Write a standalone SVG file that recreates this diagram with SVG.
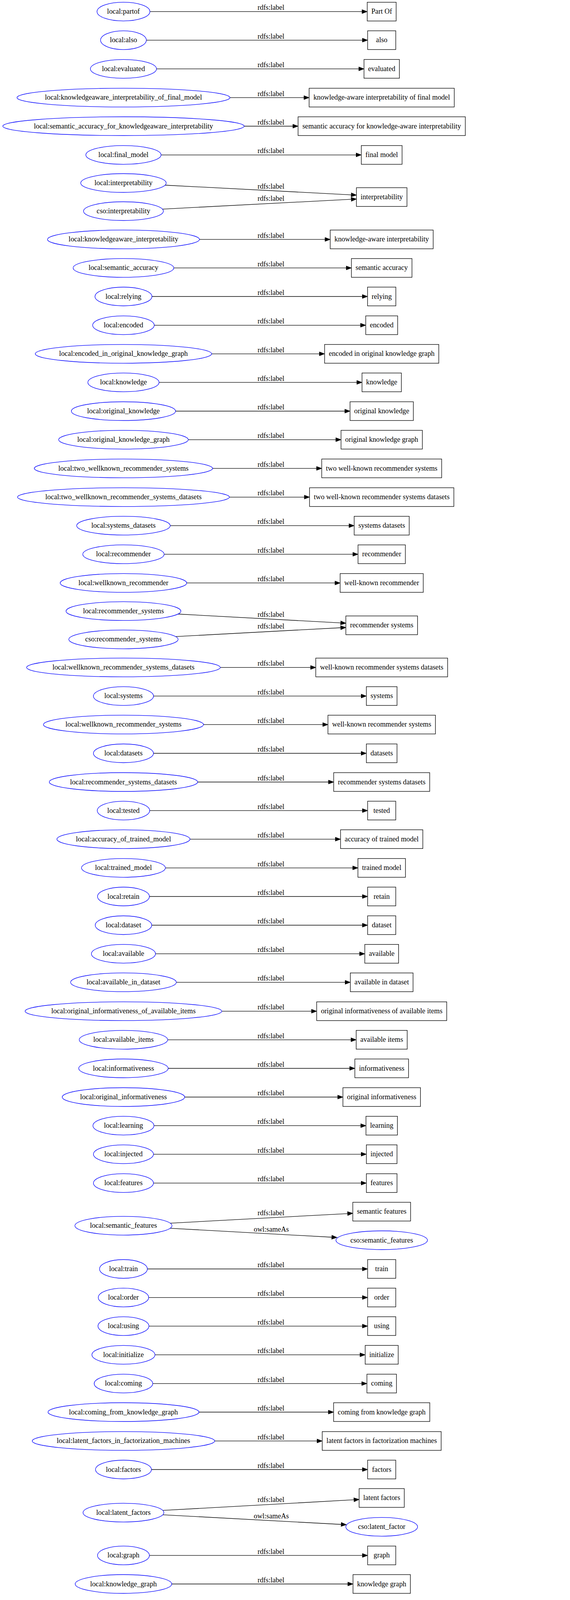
<svg xmlns="http://www.w3.org/2000/svg" width="1459" height="7352" viewBox="0 0 1459 7352">
<style>
text{font-family:"Liberation Serif","Times New Roman",serif;font-size:18.2px;text-anchor:middle;fill:#000}
.n ellipse{fill:none;stroke:#0000ff;stroke-width:1.33}
.b rect{fill:#fff;stroke:#000;stroke-width:1.33}
#connectors path{fill:none;stroke:#000;stroke-width:1.33;marker-end:url(#ah)}
</style>
<defs>
<marker id="ah" markerUnits="userSpaceOnUse" markerWidth="14" markerHeight="10" refX="0" refY="5" orient="auto" overflow="visible"><path d="M0,0L13.3,5L0,10z" fill="#000" stroke="#000" stroke-width="1"/></marker>
</defs>
<rect x="0" y="0" width="1459" height="7352" fill="#fff"/>
<g id="connectors">
<path d="M383.7,29.7H926.7"/><text x="693.5" y="25.4">rdfs:label</text>
<path d="M374.6,102.8H927.7"/><text x="693.5" y="98.5">rdfs:label</text>
<path d="M400.6,176.3H918.35"/><text x="693.5" y="172">rdfs:label</text>
<path d="M588.5,249.9H778"/><text x="693.5" y="245.6">rdfs:label</text>
<path d="M624.8,323H749.65"/><text x="693.5" y="318.7">rdfs:label</text>
<path d="M412.3,396.6H911.5"/><text x="693.5" y="392.3">rdfs:label</text>
<path d="M422.5,474L899.07,498.81"/><text x="693.5" y="482.7">rdfs:label</text>
<path d="M415.8,535.3L899.07,510.19"/><text x="693.5" y="513.5">rdfs:label</text>
<path d="M510.5,612.9H831.95"/><text x="693.5" y="608.6">rdfs:label</text>
<path d="M444.8,685.9H886.2"/><text x="693.5" y="681.6">rdfs:label</text>
<path d="M388.9,759H927.45"/><text x="693.5" y="754.7">rdfs:label</text>
<path d="M394.8,832.6H922.9"/><text x="693.5" y="828.3">rdfs:label</text>
<path d="M541.7,905.8H817.55"/><text x="693.5" y="901.5">rdfs:label</text>
<path d="M407.1,978.9H913.3"/><text x="693.5" y="974.6">rdfs:label</text>
<path d="M449.4,1052.5H882.65"/><text x="693.5" y="1048.2">rdfs:label</text>
<path d="M481.9,1125.6H859.6"/><text x="693.5" y="1121.3">rdfs:label</text>
<path d="M544.3,1199.1H810.2"/><text x="693.5" y="1194.8">rdfs:label</text>
<path d="M587.2,1272.6H779.05"/><text x="693.5" y="1268.3">rdfs:label</text>
<path d="M435.7,1345.7H893.25"/><text x="693.5" y="1341.4">rdfs:label</text>
<path d="M420.1,1418.9H903.15"/><text x="693.5" y="1414.6">rdfs:label</text>
<path d="M478,1492.4H857.3"/><text x="693.5" y="1488.1">rdfs:label</text>
<path d="M455.5,1572L872.02,1594.58"/><text x="693.5" y="1578.5">rdfs:label</text>
<path d="M449.6,1629.6L872.02,1607.01"/><text x="693.5" y="1609.3">rdfs:label</text>
<path d="M563.8,1708.7H795"/><text x="693.5" y="1704.4">rdfs:label</text>
<path d="M392.9,1781.9H924.4"/><text x="693.5" y="1777.6">rdfs:label</text>
<path d="M520.9,1854.9H826.15"/><text x="693.5" y="1850.6">rdfs:label</text>
<path d="M392.8,1928.5H924.45"/><text x="693.5" y="1924.2">rdfs:label</text>
<path d="M505.9,2002H840.85"/><text x="693.5" y="1997.7">rdfs:label</text>
<path d="M383.1,2075.1H927.7"/><text x="693.5" y="2070.8">rdfs:label</text>
<path d="M486.4,2148.3H858.35"/><text x="693.5" y="2144">rdfs:label</text>
<path d="M423.4,2221.8H902.9"/><text x="693.5" y="2217.5">rdfs:label</text>
<path d="M382.4,2295H927.7"/><text x="693.5" y="2290.7">rdfs:label</text>
<path d="M388.3,2368.5H927.7"/><text x="693.5" y="2364.2">rdfs:label</text>
<path d="M398,2441.7H920.4"/><text x="693.5" y="2437.4">rdfs:label</text>
<path d="M451.3,2514.7H883.4"/><text x="693.5" y="2510.4">rdfs:label</text>
<path d="M567.7,2588.7H797.25"/><text x="693.5" y="2584.4">rdfs:label</text>
<path d="M429.2,2661.8H898.35"/><text x="693.5" y="2657.5">rdfs:label</text>
<path d="M430.5,2735H895.05"/><text x="693.5" y="2730.7">rdfs:label</text>
<path d="M472.8,2808.5H864.4"/><text x="693.5" y="2804.2">rdfs:label</text>
<path d="M394.1,2881.7H923.4"/><text x="693.5" y="2877.4">rdfs:label</text>
<path d="M392.8,2954.8H924.45"/><text x="693.5" y="2950.5">rdfs:label</text>
<path d="M392.8,3028.7H924.45"/><text x="693.5" y="3024.4">rdfs:label</text>
<path d="M435.7,3131.3L889.77,3106.82"/><text x="693.5" y="3110.8">rdfs:label</text>
<path d="M435.6,3144.4L849.22,3167.27"/><text x="694.5" y="3153">owl:sameAs</text>
<path d="M377.2,3248.5H927.7"/><text x="693.5" y="3244.2">rdfs:label</text>
<path d="M380.5,3321.6H927.7"/><text x="693.5" y="3317.3">rdfs:label</text>
<path d="M381.2,3394.8H927.7"/><text x="693.5" y="3390.5">rdfs:label</text>
<path d="M396.7,3468.3H921.4"/><text x="693.5" y="3464">rdfs:label</text>
<path d="M390.9,3541.9H925.95"/><text x="693.5" y="3537.6">rdfs:label</text>
<path d="M509.2,3615H840.6"/><text x="693.5" y="3610.7">rdfs:label</text>
<path d="M549.5,3688.9H811.45"/><text x="693.5" y="3684.6">rdfs:label</text>
<path d="M387.6,3762H927.7"/><text x="693.5" y="3757.7">rdfs:label</text>
<path d="M416.6,3866.7L905.97,3839.44"/><text x="693.5" y="3844.5">rdfs:label</text>
<path d="M416.8,3877.8L873.32,3902.48"/><text x="694.5" y="3886.8">owl:sameAs</text>
<path d="M382.4,3981.9H927.7"/><text x="693.5" y="3977.6">rdfs:label</text>
<path d="M439.6,4055H890.25"/><text x="693.5" y="4050.7">rdfs:label</text>
<path d="M450,4128.5H882.15"/><text x="693.5" y="4124.2">rdfs:label</text>
<path d="M400,4201.7H918.85"/><text x="693.5" y="4197.4">rdfs:label</text>
<path d="M465,4274.9H870.45"/><text x="693.5" y="4270.6">rdfs:label</text>
<path d="M381.8,4348.7H927.7"/><text x="693.5" y="4344.4">rdfs:label</text>
<path d="M380.5,4421.8H927.7"/><text x="693.5" y="4417.5">rdfs:label</text>
<path d="M418.9,4495.4H904.15"/><text x="693.5" y="4491.1">rdfs:label</text>
<path d="M559.9,4568.9H801.05"/><text x="693.5" y="4564.6">rdfs:label</text>
<path d="M390.9,4642H925.95"/><text x="693.5" y="4637.7">rdfs:label</text>
<path d="M475.4,4715.2H862.35"/><text x="693.5" y="4710.9">rdfs:label</text>
<path d="M401.3,4788.4H914.8"/><text x="693.5" y="4784.1">rdfs:label</text>
<path d="M372.7,4861.9H927.7"/><text x="693.5" y="4857.6">rdfs:label</text>
<path d="M385.7,4935H927.7"/><text x="693.5" y="4930.7">rdfs:label</text>
<path d="M422.1,5008.5H901.65"/><text x="693.5" y="5004.2">rdfs:label</text>
<path d="M403.9,5081.7H915.85"/><text x="693.5" y="5077.4">rdfs:label</text>
<path d="M369.4,5154.8H927.7"/><text x="693.5" y="5150.5">rdfs:label</text>
<path d="M554.7,5228.7H807.4"/><text x="693.5" y="5224.4">rdfs:label</text>
<path d="M377.3,5301.9H927.7"/><text x="693.5" y="5297.6">rdfs:label</text>
<path d="M478,5374.6H864.9"/><text x="693.5" y="5370.3">rdfs:label</text>
<path d="M381.8,5448.6H927.7"/><text x="693.5" y="5444.3">rdfs:label</text>
<path d="M460.4,5521.6H878.6"/><text x="693.5" y="5517.3">rdfs:label</text>
<path d="M381.8,5594.8H927.7"/><text x="693.5" y="5590.5">rdfs:label</text>
<path d="M413.6,5668.3H910.5"/><text x="693.5" y="5664">rdfs:label</text>
<path d="M394.8,5741.9H877.8"/><text x="694.5" y="5737.6">local:partOf</text>
<path d="M1062.9,5741.9H1321.05"/><text x="1249" y="5737.6">rdfs:label</text>
<path d="M435.7,5815H893.25"/><text x="693.5" y="5810.7">rdfs:label</text>
<path d="M453.3,5888.6H879.6"/><text x="693.5" y="5884.3">rdfs:label</text>
<path d="M411,5961.7H910.25"/><text x="693.5" y="5957.4">rdfs:label</text>
<path d="M478,6034.9H857.3"/><text x="693.5" y="6030.6">rdfs:label</text>
<path d="M385,6108.3H927.7"/><text x="693.5" y="6104">rdfs:label</text>
<path d="M391.5,6181.8H925.45"/><text x="693.5" y="6177.5">rdfs:label</text>
<path d="M397.4,6255H920.9"/><text x="693.5" y="6250.7">rdfs:label</text>
<path d="M468.2,6328.5H872.5"/><text x="693.5" y="6324.2">rdfs:label</text>
<path d="M378.5,6401.7H927.7"/><text x="693.5" y="6397.4">rdfs:label</text>
<path d="M405.2,6474.8H917.1"/><text x="693.5" y="6470.5">rdfs:label</text>
<path d="M381.2,6548.4H927.7"/><text x="693.5" y="6544.1">rdfs:label</text>
<path d="M372,6621.9H927.7"/><text x="693.5" y="6617.6">rdfs:label</text>
<path d="M411,6694.7H910.25"/><text x="693.5" y="6690.4">rdfs:label</text>
<path d="M433.5,6783C650,6780 900,6780 1030,6783C1140,6785.5 1230,6788 1295.8,6794.3"/><text x="976.5" y="6777">rdfs:label</text>
<path d="M423.7,6796L861.76,6836.48"/><text x="694.5" y="6814">owl:sameAs</text>
<path d="M1077,6836L1295.78,6812.14"/><text x="1248" y="6809">rdfs:label</text>
<path d="M569.6,6920H790.45"/><text x="693.5" y="6915.7">rdfs:label</text>
<path d="M408.4,6994H912.3"/><text x="693.5" y="6989.7">rdfs:label</text>
<path d="M470.2,7067H863.4"/><text x="693.5" y="7062.7">rdfs:label</text>
</g>
<g id="local-partof" class="n"><ellipse cx="316" cy="29.7" rx="67.7" ry="24"/><text x="316" y="35.2">local:partof</text></g>
<g id="lit-part-of" class="b"><rect x="940" y="5.7" width="74" height="48"/><text x="977" y="35.2">Part Of</text></g>
<g id="local-also" class="n"><ellipse cx="316" cy="102.8" rx="58.6" ry="24"/><text x="316" y="108.3">local:also</text></g>
<g id="lit-also" class="b"><rect x="941" y="78.8" width="72" height="48"/><text x="977" y="108.3">also</text></g>
<g id="local-evaluated" class="n"><ellipse cx="316" cy="176.3" rx="84.6" ry="24"/><text x="316" y="181.8">local:evaluated</text></g>
<g id="lit-evaluated" class="b"><rect x="931.65" y="152.3" width="90.7" height="48"/><text x="977" y="181.8">evaluated</text></g>
<g id="local-kaiofm" class="n"><ellipse cx="316" cy="249.9" rx="272.5" ry="24"/><text x="316" y="255.4">local:knowledgeaware_interpretability_of_final_model</text></g>
<g id="lit-kaiofm" class="b"><rect x="791.3" y="225.9" width="371.4" height="48"/><text x="977" y="255.4">knowledge-aware interpretability of final model</text></g>
<g id="local-safkai" class="n"><ellipse cx="316" cy="323" rx="308.8" ry="24"/><text x="316" y="328.5">local:semantic_accuracy_for_knowledgeaware_interpretability</text></g>
<g id="lit-safkai" class="b"><rect x="762.95" y="299" width="428.1" height="48"/><text x="977" y="328.5">semantic accuracy for knowledge-aware interpretability</text></g>
<g id="local-final-model" class="n"><ellipse cx="316" cy="396.6" rx="96.3" ry="24"/><text x="316" y="402.1">local:final_model</text></g>
<g id="lit-final-model" class="b"><rect x="924.8" y="372.6" width="104.4" height="48"/><text x="977" y="402.1">final model</text></g>
<g id="local-interpretability" class="n"><ellipse cx="316" cy="468.5" rx="109.4" ry="24"/><text x="316" y="474">local:interpretability</text></g>
<g id="cso-interpretability" class="n"><ellipse cx="316" cy="540.5" rx="102.2" ry="24"/><text x="316" y="546">cso:interpretability</text></g>
<g id="lit-interpretability" class="b"><rect x="912.35" y="480.5" width="129.3" height="48"/><text x="977" y="510">interpretability</text></g>
<g id="local-kai" class="n"><ellipse cx="316" cy="612.9" rx="194.5" ry="24"/><text x="316" y="618.4">local:knowledgeaware_interpretability</text></g>
<g id="lit-kai" class="b"><rect x="845.25" y="588.9" width="263.5" height="48"/><text x="977" y="618.4">knowledge-aware interpretability</text></g>
<g id="local-semantic-accuracy" class="n"><ellipse cx="316" cy="685.9" rx="128.8" ry="24"/><text x="316" y="691.4">local:semantic_accuracy</text></g>
<g id="lit-semantic-accuracy" class="b"><rect x="899.5" y="661.9" width="155" height="48"/><text x="977" y="691.4">semantic accuracy</text></g>
<g id="local-relying" class="n"><ellipse cx="316" cy="759" rx="72.9" ry="24"/><text x="316" y="764.5">local:relying</text></g>
<g id="lit-relying" class="b"><rect x="940.75" y="735" width="72.5" height="48"/><text x="977" y="764.5">relying</text></g>
<g id="local-encoded" class="n"><ellipse cx="316" cy="832.6" rx="78.8" ry="24"/><text x="316" y="838.1">local:encoded</text></g>
<g id="lit-encoded" class="b"><rect x="936.2" y="808.6" width="81.6" height="48"/><text x="977" y="838.1">encoded</text></g>
<g id="local-eiokg" class="n"><ellipse cx="316" cy="905.8" rx="225.7" ry="24"/><text x="316" y="911.3">local:encoded_in_original_knowledge_graph</text></g>
<g id="lit-eiokg" class="b"><rect x="830.85" y="881.8" width="292.3" height="48"/><text x="977" y="911.3">encoded in original knowledge graph</text></g>
<g id="local-knowledge" class="n"><ellipse cx="316" cy="978.9" rx="91.1" ry="24"/><text x="316" y="984.4">local:knowledge</text></g>
<g id="lit-knowledge" class="b"><rect x="926.6" y="954.9" width="100.8" height="48"/><text x="977" y="984.4">knowledge</text></g>
<g id="local-original-knowledge" class="n"><ellipse cx="316" cy="1052.5" rx="133.4" ry="24"/><text x="316" y="1058">local:original_knowledge</text></g>
<g id="lit-original-knowledge" class="b"><rect x="895.95" y="1028.5" width="162.1" height="48"/><text x="977" y="1058">original knowledge</text></g>
<g id="local-okg" class="n"><ellipse cx="316" cy="1125.6" rx="165.9" ry="24"/><text x="316" y="1131.1">local:original_knowledge_graph</text></g>
<g id="lit-okg" class="b"><rect x="872.9" y="1101.6" width="208.2" height="48"/><text x="977" y="1131.1">original knowledge graph</text></g>
<g id="local-twrs" class="n"><ellipse cx="316" cy="1199.1" rx="228.3" ry="24"/><text x="316" y="1204.6">local:two_wellknown_recommender_systems</text></g>
<g id="lit-twrs" class="b"><rect x="823.5" y="1175.1" width="307" height="48"/><text x="977" y="1204.6">two well-known recommender systems</text></g>
<g id="local-twrsd" class="n"><ellipse cx="316" cy="1272.6" rx="271.2" ry="24"/><text x="316" y="1278.1">local:two_wellknown_recommender_systems_datasets</text></g>
<g id="lit-twrsd" class="b"><rect x="792.35" y="1248.6" width="369.3" height="48"/><text x="977" y="1278.1">two well-known recommender systems datasets</text></g>
<g id="local-systems-datasets" class="n"><ellipse cx="316" cy="1345.7" rx="119.7" ry="24"/><text x="316" y="1351.2">local:systems_datasets</text></g>
<g id="lit-systems-datasets" class="b"><rect x="906.55" y="1321.7" width="140.9" height="48"/><text x="977" y="1351.2">systems datasets</text></g>
<g id="local-recommender" class="n"><ellipse cx="316" cy="1418.9" rx="104.1" ry="24"/><text x="316" y="1424.4">local:recommender</text></g>
<g id="lit-recommender" class="b"><rect x="916.45" y="1394.9" width="121.1" height="48"/><text x="977" y="1424.4">recommender</text></g>
<g id="local-wellknown-recommender" class="n"><ellipse cx="316" cy="1492.4" rx="162" ry="24"/><text x="316" y="1497.9">local:wellknown_recommender</text></g>
<g id="lit-wellknown-recommender" class="b"><rect x="870.6" y="1468.4" width="212.8" height="48"/><text x="977" y="1497.9">well-known recommender</text></g>
<g id="local-recommender-systems" class="n"><ellipse cx="316" cy="1564.4" rx="147" ry="24"/><text x="316" y="1569.9">local:recommender_systems</text></g>
<g id="cso-recommender-systems" class="n"><ellipse cx="316" cy="1636.8" rx="139.9" ry="24"/><text x="316" y="1642.3">cso:recommender_systems</text></g>
<g id="lit-recommender-systems" class="b"><rect x="885.3" y="1576.8" width="183.4" height="48"/><text x="977" y="1606.3">recommender systems</text></g>
<g id="local-wrsd" class="n"><ellipse cx="316" cy="1708.7" rx="247.8" ry="24"/><text x="316" y="1714.2">local:wellknown_recommender_systems_datasets</text></g>
<g id="lit-wrsd" class="b"><rect x="808.3" y="1684.7" width="337.4" height="48"/><text x="977" y="1714.2">well-known recommender systems datasets</text></g>
<g id="local-systems" class="n"><ellipse cx="316" cy="1781.9" rx="76.9" ry="24"/><text x="316" y="1787.4">local:systems</text></g>
<g id="lit-systems" class="b"><rect x="937.7" y="1757.9" width="78.6" height="48"/><text x="977" y="1787.4">systems</text></g>
<g id="local-wrs" class="n"><ellipse cx="316" cy="1854.9" rx="204.9" ry="24"/><text x="316" y="1860.4">local:wellknown_recommender_systems</text></g>
<g id="lit-wrs" class="b"><rect x="839.45" y="1830.9" width="275.1" height="48"/><text x="977" y="1860.4">well-known recommender systems</text></g>
<g id="local-datasets" class="n"><ellipse cx="316" cy="1928.5" rx="76.8" ry="24"/><text x="316" y="1934">local:datasets</text></g>
<g id="lit-datasets" class="b"><rect x="937.75" y="1904.5" width="78.5" height="48"/><text x="977" y="1934">datasets</text></g>
<g id="local-rsd" class="n"><ellipse cx="316" cy="2002" rx="189.9" ry="24"/><text x="316" y="2007.5">local:recommender_systems_datasets</text></g>
<g id="lit-rsd" class="b"><rect x="854.15" y="1978" width="245.7" height="48"/><text x="977" y="2007.5">recommender systems datasets</text></g>
<g id="local-tested" class="n"><ellipse cx="316" cy="2075.1" rx="67.1" ry="24"/><text x="316" y="2080.6">local:tested</text></g>
<g id="lit-tested" class="b"><rect x="941" y="2051.1" width="72" height="48"/><text x="977" y="2080.6">tested</text></g>
<g id="local-acc-trained" class="n"><ellipse cx="316" cy="2148.3" rx="170.4" ry="24"/><text x="316" y="2153.8">local:accuracy_of_trained_model</text></g>
<g id="lit-acc-trained" class="b"><rect x="871.65" y="2124.3" width="210.7" height="48"/><text x="977" y="2153.8">accuracy of trained model</text></g>
<g id="local-trained-model" class="n"><ellipse cx="316" cy="2221.8" rx="107.4" ry="24"/><text x="316" y="2227.3">local:trained_model</text></g>
<g id="lit-trained-model" class="b"><rect x="916.2" y="2197.8" width="121.6" height="48"/><text x="977" y="2227.3">trained model</text></g>
<g id="local-retain" class="n"><ellipse cx="316" cy="2295" rx="66.4" ry="24"/><text x="316" y="2300.5">local:retain</text></g>
<g id="lit-retain" class="b"><rect x="941" y="2271" width="72" height="48"/><text x="977" y="2300.5">retain</text></g>
<g id="local-dataset" class="n"><ellipse cx="316" cy="2368.5" rx="72.3" ry="24"/><text x="316" y="2374">local:dataset</text></g>
<g id="lit-dataset" class="b"><rect x="941" y="2344.5" width="72" height="48"/><text x="977" y="2374">dataset</text></g>
<g id="local-available" class="n"><ellipse cx="316" cy="2441.7" rx="82" ry="24"/><text x="316" y="2447.2">local:available</text></g>
<g id="lit-available" class="b"><rect x="933.7" y="2417.7" width="86.6" height="48"/><text x="977" y="2447.2">available</text></g>
<g id="local-available-in-dataset" class="n"><ellipse cx="316" cy="2514.7" rx="135.3" ry="24"/><text x="316" y="2520.2">local:available_in_dataset</text></g>
<g id="lit-available-in-dataset" class="b"><rect x="896.7" y="2490.7" width="160.6" height="48"/><text x="977" y="2520.2">available in dataset</text></g>
<g id="local-oioai" class="n"><ellipse cx="316" cy="2588.7" rx="251.7" ry="24"/><text x="316" y="2594.2">local:original_informativeness_of_available_items</text></g>
<g id="lit-oioai" class="b"><rect x="810.55" y="2564.7" width="332.9" height="48"/><text x="977" y="2594.2">original informativeness of available items</text></g>
<g id="local-available-items" class="n"><ellipse cx="316" cy="2661.8" rx="113.2" ry="24"/><text x="316" y="2667.3">local:available_items</text></g>
<g id="lit-available-items" class="b"><rect x="911.65" y="2637.8" width="130.7" height="48"/><text x="977" y="2667.3">available items</text></g>
<g id="local-informativeness" class="n"><ellipse cx="316" cy="2735" rx="114.5" ry="24"/><text x="316" y="2740.5">local:informativeness</text></g>
<g id="lit-informativeness" class="b"><rect x="908.35" y="2711" width="137.3" height="48"/><text x="977" y="2740.5">informativeness</text></g>
<g id="local-original-informativeness" class="n"><ellipse cx="316" cy="2808.5" rx="156.8" ry="24"/><text x="316" y="2814">local:original_informativeness</text></g>
<g id="lit-original-informativeness" class="b"><rect x="877.7" y="2784.5" width="198.6" height="48"/><text x="977" y="2814">original informativeness</text></g>
<g id="local-learning" class="n"><ellipse cx="316" cy="2881.7" rx="78.1" ry="24"/><text x="316" y="2887.2">local:learning</text></g>
<g id="lit-learning" class="b"><rect x="936.7" y="2857.7" width="80.6" height="48"/><text x="977" y="2887.2">learning</text></g>
<g id="local-injected" class="n"><ellipse cx="316" cy="2954.8" rx="76.8" ry="24"/><text x="316" y="2960.3">local:injected</text></g>
<g id="lit-injected" class="b"><rect x="937.75" y="2930.8" width="78.5" height="48"/><text x="977" y="2960.3">injected</text></g>
<g id="local-features" class="n"><ellipse cx="316" cy="3028.7" rx="76.8" ry="24"/><text x="316" y="3034.2">local:features</text></g>
<g id="lit-features" class="b"><rect x="937.75" y="3004.7" width="78.5" height="48"/><text x="977" y="3034.2">features</text></g>
<g id="local-semantic-features" class="n"><ellipse cx="316" cy="3137.8" rx="124.3" ry="24"/><text x="316" y="3143.3">local:semantic_features</text></g>
<g id="lit-semantic-features" class="b"><rect x="903.05" y="3077.8" width="147.9" height="48"/><text x="977" y="3107.3">semantic features</text></g>
<g id="cso-semantic-features" class="n"><ellipse cx="977" cy="3175" rx="117.1" ry="24"/><text x="977" y="3180.5">cso:semantic_features</text></g>
<g id="local-train" class="n"><ellipse cx="316" cy="3248.5" rx="61.2" ry="24"/><text x="316" y="3254">local:train</text></g>
<g id="lit-train" class="b"><rect x="941" y="3224.5" width="72" height="48"/><text x="977" y="3254">train</text></g>
<g id="local-order" class="n"><ellipse cx="316" cy="3321.6" rx="64.5" ry="24"/><text x="316" y="3327.1">local:order</text></g>
<g id="lit-order" class="b"><rect x="941" y="3297.6" width="72" height="48"/><text x="977" y="3327.1">order</text></g>
<g id="local-using" class="n"><ellipse cx="316" cy="3394.8" rx="65.2" ry="24"/><text x="316" y="3400.3">local:using</text></g>
<g id="lit-using" class="b"><rect x="941" y="3370.8" width="72" height="48"/><text x="977" y="3400.3">using</text></g>
<g id="local-initialize" class="n"><ellipse cx="316" cy="3468.3" rx="80.7" ry="24"/><text x="316" y="3473.8">local:initialize</text></g>
<g id="lit-initialize" class="b"><rect x="934.7" y="3444.3" width="84.6" height="48"/><text x="977" y="3473.8">initialize</text></g>
<g id="local-coming" class="n"><ellipse cx="316" cy="3541.9" rx="74.9" ry="24"/><text x="316" y="3547.4">local:coming</text></g>
<g id="lit-coming" class="b"><rect x="939.25" y="3517.9" width="75.5" height="48"/><text x="977" y="3547.4">coming</text></g>
<g id="local-cfkg" class="n"><ellipse cx="316" cy="3615" rx="193.2" ry="24"/><text x="316" y="3620.5">local:coming_from_knowledge_graph</text></g>
<g id="lit-cfkg" class="b"><rect x="853.9" y="3591" width="246.2" height="48"/><text x="977" y="3620.5">coming from knowledge graph</text></g>
<g id="local-lffm" class="n"><ellipse cx="316" cy="3688.9" rx="233.5" ry="24"/><text x="316" y="3694.4">local:latent_factors_in_factorization_machines</text></g>
<g id="lit-lffm" class="b"><rect x="824.75" y="3664.9" width="304.5" height="48"/><text x="977" y="3694.4">latent factors in factorization machines</text></g>
<g id="local-factors" class="n"><ellipse cx="316" cy="3762" rx="71.6" ry="24"/><text x="316" y="3767.5">local:factors</text></g>
<g id="lit-factors" class="b"><rect x="941" y="3738" width="72" height="48"/><text x="977" y="3767.5">factors</text></g>
<g id="local-latent-factors" class="n"><ellipse cx="316" cy="3872.3" rx="103.5" ry="24"/><text x="316" y="3877.8">local:latent_factors</text></g>
<g id="lit-latent-factors" class="b"><rect x="919.25" y="3810.8" width="115.5" height="48"/><text x="977" y="3840.3">latent factors</text></g>
<g id="cso-latent-factor" class="n"><ellipse cx="977" cy="3908.7" rx="91.8" ry="24"/><text x="977" y="3914.2">cso:latent_factor</text></g>
<g id="local-graph" class="n"><ellipse cx="316" cy="3981.9" rx="66.4" ry="24"/><text x="316" y="3987.4">local:graph</text></g>
<g id="lit-graph" class="b"><rect x="941" y="3957.9" width="72" height="48"/><text x="977" y="3987.4">graph</text></g>
<g id="local-knowledge-graph" class="n"><ellipse cx="316" cy="4055" rx="123.6" ry="24"/><text x="316" y="4060.5">local:knowledge_graph</text></g>
<g id="lit-knowledge-graph" class="b"><rect x="903.55" y="4031" width="146.9" height="48"/><text x="977" y="4060.5">knowledge graph</text></g>
<g id="local-interpretable-model" class="n"><ellipse cx="316" cy="4128.5" rx="134" ry="24"/><text x="316" y="4134">local:interpretable_model</text></g>
<g id="lit-interpretable-model" class="b"><rect x="895.45" y="4104.5" width="163.1" height="48"/><text x="977" y="4134">interpretable model</text></g>
<g id="local-machines" class="n"><ellipse cx="316" cy="4201.7" rx="84" ry="24"/><text x="316" y="4207.2">local:machines</text></g>
<g id="lit-machines" class="b"><rect x="932.15" y="4177.7" width="89.7" height="48"/><text x="977" y="4207.2">machines</text></g>
<g id="local-factorization-machines" class="n"><ellipse cx="316" cy="4274.9" rx="149" ry="24"/><text x="316" y="4280.4">local:factorization_machines</text></g>
<g id="lit-factorization-machines" class="b"><rect x="883.75" y="4250.9" width="186.5" height="48"/><text x="977" y="4280.4">factorization machines</text></g>
<g id="local-paper" class="n"><ellipse cx="316" cy="4348.7" rx="65.8" ry="24"/><text x="316" y="4354.2">local:paper</text></g>
<g id="lit-paper" class="b"><rect x="941" y="4324.7" width="72" height="48"/><text x="977" y="4354.2">paper</text></g>
<g id="local-show" class="n"><ellipse cx="316" cy="4421.8" rx="64.5" ry="24"/><text x="316" y="4427.3">local:show</text></g>
<g id="lit-show" class="b"><rect x="941" y="4397.8" width="72" height="48"/><text x="977" y="4427.3">show</text></g>
<g id="local-interpretation" class="n"><ellipse cx="316" cy="4495.4" rx="102.9" ry="24"/><text x="316" y="4500.9">local:interpretation</text></g>
<g id="lit-interpretation" class="b"><rect x="917.45" y="4471.4" width="119.1" height="48"/><text x="977" y="4500.9">interpretation</text></g>
<g id="local-iorp" class="n"><ellipse cx="316" cy="4568.9" rx="243.9" ry="24"/><text x="316" y="4574.4">local:interpretation_of_recommendation_process</text></g>
<g id="lit-iorp" class="b"><rect x="814.35" y="4544.9" width="325.3" height="48"/><text x="977" y="4574.4">interpretation of recommendation process</text></g>
<g id="local-process" class="n"><ellipse cx="316" cy="4642" rx="74.9" ry="24"/><text x="316" y="4647.5">local:process</text></g>
<g id="lit-process" class="b"><rect x="939.25" y="4618" width="75.5" height="48"/><text x="977" y="4647.5">process</text></g>
<g id="local-recommendation-process" class="n"><ellipse cx="316" cy="4715.2" rx="159.4" ry="24"/><text x="316" y="4720.7">local:recommendation_process</text></g>
<g id="lit-recommendation-process" class="b"><rect x="875.65" y="4691.2" width="202.7" height="48"/><text x="977" y="4720.7">recommendation process</text></g>
<g id="local-nontrivial" class="n"><ellipse cx="316" cy="4788.4" rx="85.3" ry="24"/><text x="316" y="4793.9">local:nontrivial</text></g>
<g id="lit-nontrivial" class="b"><rect x="928.1" y="4764.4" width="97.8" height="48"/><text x="977" y="4793.9">non-trivial</text></g>
<g id="local-this" class="n"><ellipse cx="316" cy="4861.9" rx="56.7" ry="24"/><text x="316" y="4867.4">local:this</text></g>
<g id="lit-this" class="b"><rect x="941" y="4837.9" width="72" height="48"/><text x="977" y="4867.4">this</text></g>
<g id="local-makes" class="n"><ellipse cx="316" cy="4935" rx="69.7" ry="24"/><text x="316" y="4940.5">local:makes</text></g>
<g id="lit-makes" class="b"><rect x="941" y="4911" width="72" height="48"/><text x="977" y="4940.5">makes</text></g>
<g id="local-recommended" class="n"><ellipse cx="316" cy="5008.5" rx="106.1" ry="24"/><text x="316" y="5014">local:recommended</text></g>
<g id="lit-recommended" class="b"><rect x="914.95" y="4984.5" width="124.1" height="48"/><text x="977" y="5014">recommended</text></g>
<g id="local-references" class="n"><ellipse cx="316" cy="5081.7" rx="87.9" ry="24"/><text x="316" y="5087.2">local:references</text></g>
<g id="lit-references" class="b"><rect x="929.15" y="5057.7" width="95.7" height="48"/><text x="977" y="5087.2">references</text></g>
<g id="local-we" class="n"><ellipse cx="316" cy="5154.8" rx="53.4" ry="24"/><text x="316" y="5160.3">local:we</text></g>
<g id="lit-we" class="b"><rect x="941" y="5130.8" width="72" height="48"/><text x="977" y="5160.3">we</text></g>
<g id="local-asori" class="n"><ellipse cx="316" cy="5228.7" rx="238.7" ry="24"/><text x="316" y="5234.2">local:actual_semantics_of_recommended_items</text></g>
<g id="lit-asori" class="b"><rect x="820.7" y="5204.7" width="312.6" height="48"/><text x="977" y="5234.2">actual semantics of recommended items</text></g>
<g id="local-miss" class="n"><ellipse cx="316" cy="5301.9" rx="61.3" ry="24"/><text x="316" y="5307.4">local:miss</text></g>
<g id="lit-miss" class="b"><rect x="941" y="5277.9" width="72" height="48"/><text x="977" y="5307.4">miss</text></g>
<g id="local-mtas" class="n"><ellipse cx="316" cy="5374.6" rx="162" ry="24"/><text x="316" y="5380.1">local:miss_to_actual_semantics</text></g>
<g id="lit-mtas" class="b"><rect x="878.2" y="5350.6" width="197.6" height="48"/><text x="977" y="5380.1">miss to actual semantics</text></g>
<g id="local-move" class="n"><ellipse cx="316" cy="5448.6" rx="65.8" ry="24"/><text x="316" y="5454.1">local:move</text></g>
<g id="lit-move" class="b"><rect x="941" y="5424.6" width="72" height="48"/><text x="977" y="5454.1">move</text></g>
<g id="local-mtls" class="n"><ellipse cx="316" cy="5521.6" rx="144.4" ry="24"/><text x="316" y="5527.1">local:move_to_latent_space</text></g>
<g id="lit-mtls" class="b"><rect x="891.9" y="5497.6" width="170.2" height="48"/><text x="977" y="5527.1">move to latent space</text></g>
<g id="local-space" class="n"><ellipse cx="316" cy="5594.8" rx="65.8" ry="24"/><text x="316" y="5600.3">local:space</text></g>
<g id="lit-space" class="b"><rect x="941" y="5570.8" width="72" height="48"/><text x="977" y="5600.3">space</text></g>
<g id="local-latent-space" class="n"><ellipse cx="316" cy="5668.3" rx="97.6" ry="24"/><text x="316" y="5673.8">local:latent_space</text></g>
<g id="lit-latent-space" class="b"><rect x="923.8" y="5644.3" width="106.4" height="48"/><text x="977" y="5673.8">latent space</text></g>
<g id="cso-semantics" class="n"><ellipse cx="316" cy="5741.9" rx="78.8" ry="24"/><text x="316" y="5747.4">cso:semantics</text></g>
<g id="local-semantics" class="n"><ellipse cx="977" cy="5741.9" rx="85.9" ry="24"/><text x="977" y="5747.4">local:semantics</text></g>
<g id="lit-semantics" class="b"><rect x="1334.35" y="5717.9" width="92.7" height="48"/><text x="1380.7" y="5747.4">semantics</text></g>
<g id="local-actual-semantics" class="n"><ellipse cx="316" cy="5815" rx="119.7" ry="24"/><text x="316" y="5820.5">local:actual_semantics</text></g>
<g id="lit-actual-semantics" class="b"><rect x="906.55" y="5791" width="140.9" height="48"/><text x="977" y="5820.5">actual semantics</text></g>
<g id="local-recommended-items" class="n"><ellipse cx="316" cy="5888.6" rx="137.3" ry="24"/><text x="316" y="5894.1">local:recommended_items</text></g>
<g id="lit-recommended-items" class="b"><rect x="892.9" y="5864.6" width="168.2" height="48"/><text x="977" y="5894.1">recommended items</text></g>
<g id="local-information" class="n"><ellipse cx="316" cy="5961.7" rx="95" ry="24"/><text x="316" y="5967.2">local:information</text></g>
<g id="lit-information" class="b"><rect x="923.55" y="5937.7" width="106.9" height="48"/><text x="977" y="5967.2">information</text></g>
<g id="local-cbi" class="n"><ellipse cx="316" cy="6034.9" rx="162" ry="24"/><text x="316" y="6040.4">local:contentbased_information</text></g>
<g id="lit-cbi" class="b"><rect x="870.6" y="6010.9" width="212.8" height="48"/><text x="977" y="6040.4">content-based information</text></g>
<g id="local-model" class="n"><ellipse cx="316" cy="6108.3" rx="69" ry="24"/><text x="316" y="6113.8">local:model</text></g>
<g id="lit-model" class="b"><rect x="941" y="6084.3" width="72" height="48"/><text x="977" y="6113.8">model</text></g>
<g id="local-embeds" class="n"><ellipse cx="316" cy="6181.8" rx="75.5" ry="24"/><text x="316" y="6187.3">local:embeds</text></g>
<g id="lit-embeds" class="b"><rect x="938.75" y="6157.8" width="76.5" height="48"/><text x="977" y="6187.3">embeds</text></g>
<g id="local-accuracy" class="n"><ellipse cx="316" cy="6255" rx="81.4" ry="24"/><text x="316" y="6260.5">local:accuracy</text></g>
<g id="lit-accuracy" class="b"><rect x="934.2" y="6231" width="85.6" height="48"/><text x="977" y="6260.5">accuracy</text></g>
<g id="local-hloa" class="n"><ellipse cx="316" cy="6328.5" rx="152.2" ry="24"/><text x="316" y="6334">local:high_level_of_accuracy</text></g>
<g id="lit-hloa" class="b"><rect x="885.8" y="6304.5" width="182.4" height="48"/><text x="977" y="6334">high level of accuracy</text></g>
<g id="local-level" class="n"><ellipse cx="316" cy="6401.7" rx="62.5" ry="24"/><text x="316" y="6407.2">local:level</text></g>
<g id="lit-level" class="b"><rect x="941" y="6377.7" width="72" height="48"/><text x="977" y="6407.2">level</text></g>
<g id="local-high-level" class="n"><ellipse cx="316" cy="6474.8" rx="89.2" ry="24"/><text x="316" y="6480.3">local:high_level</text></g>
<g id="lit-high-level" class="b"><rect x="930.4" y="6450.8" width="93.2" height="48"/><text x="977" y="6480.3">high level</text></g>
<g id="local-items" class="n"><ellipse cx="316" cy="6548.4" rx="65.2" ry="24"/><text x="316" y="6553.9">local:items</text></g>
<g id="lit-items" class="b"><rect x="941" y="6524.4" width="72" height="48"/><text x="977" y="6553.9">items</text></g>
<g id="local-can" class="n"><ellipse cx="316" cy="6621.9" rx="56" ry="24"/><text x="316" y="6627.4">local:can</text></g>
<g id="lit-can" class="b"><rect x="941" y="6597.9" width="72" height="48"/><text x="977" y="6627.4">can</text></g>
<g id="local-recommend" class="n"><ellipse cx="316" cy="6694.7" rx="95" ry="24"/><text x="316" y="6700.2">local:recommend</text></g>
<g id="lit-recommend" class="b"><rect x="923.55" y="6670.7" width="106.9" height="48"/><text x="977" y="6700.2">recommend</text></g>
<g id="local-recommendation" class="n"><ellipse cx="316" cy="6786" rx="118.4" ry="24"/><text x="316" y="6791.5">local:recommendation</text></g>
<g id="cso-recommendation" class="n"><ellipse cx="977" cy="6847" rx="111.3" ry="24"/><text x="977" y="6852.5">cso:recommendation</text></g>
<g id="lit-recommendation" class="b"><rect x="1309" y="6779" width="143.4" height="48"/><text x="1380.7" y="6808.5">recommendation</text></g>
<g id="local-mbatr" class="n"><ellipse cx="316" cy="6920" rx="253.6" ry="24"/><text x="316" y="6925.5">local:modelbased_approaches_to_recommendation</text></g>
<g id="lit-mbatr" class="b"><rect x="803.75" y="6896" width="346.5" height="48"/><text x="977" y="6925.5">model-based approaches to recommendation</text></g>
<g id="local-approaches" class="n"><ellipse cx="316" cy="6994" rx="92.4" ry="24"/><text x="316" y="6999.5">local:approaches</text></g>
<g id="lit-approaches" class="b"><rect x="925.6" y="6970" width="102.8" height="48"/><text x="977" y="6999.5">approaches</text></g>
<g id="local-modelbased-approaches" class="n"><ellipse cx="316" cy="7067" rx="154.2" ry="24"/><text x="316" y="7072.5">local:modelbased_approaches</text></g>
<g id="lit-modelbased-approaches" class="b"><rect x="876.7" y="7043" width="200.6" height="48"/><text x="977" y="7072.5">model-based approaches</text></g>
<g id="legend">
<text x="729.5" y="7155">Model:</text>
<text x="729.5" y="7175.2">(Unknown)</text>
<text x="729.5" y="7215.6">Namespaces:</text>
<text x="729.5" y="7235.8">rdfs: http://www.w3.org/2000/01/rdf-schema#</text>
<text x="729.5" y="7256">local: http://local/local.owl#</text>
<text x="729.5" y="7276.2">vn.role: http://local/verbnet_roles.owl#</text>
<text x="729.5" y="7296.4">cso: https://cso.kmi.open.ac.uk/topics/</text>
<text x="729.5" y="7316.6">rdf: http://www.w3.org/1999/02/22-rdf-syntax-ns#</text>
<text x="729.5" y="7336.8">owl: http://www.w3.org/2002/07/owl#</text>
</g>
</svg>
